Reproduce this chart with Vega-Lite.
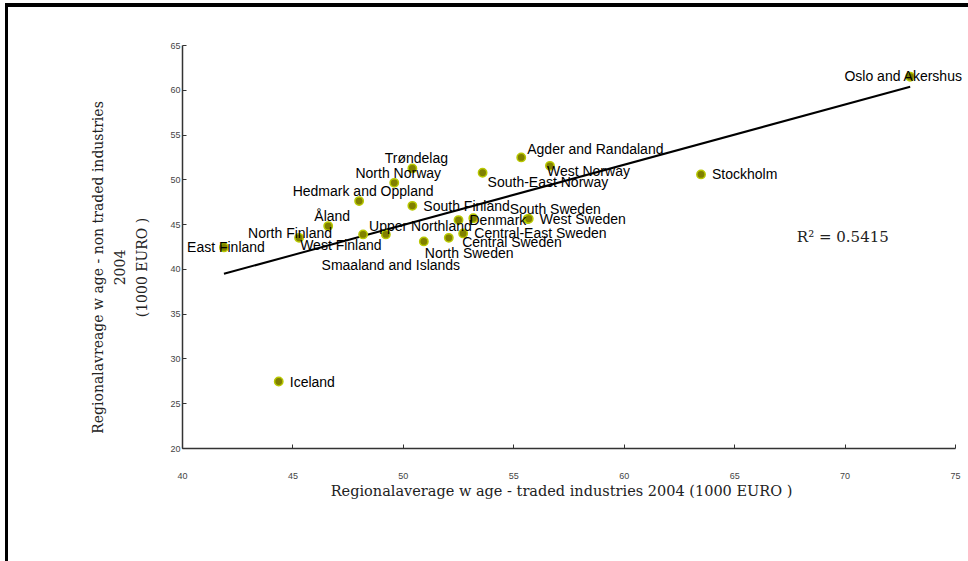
{
  "$schema": "https://vega.github.io/schema/vega-lite/v6.json",
  "width": 773,
  "height": 403,
  "autosize": {"type": "none"},
  "padding": {"left": 182, "top": 45, "right": 13, "bottom": 113},
  "background": "white",
  "config": {
    "view": {"stroke": null},
    "text": {"font": "Liberation Sans", "fontSize": 14, "color": "#000000", "baseline": "middle"}
  },
  "resolve": {"axis": {"x": "independent", "y": "independent"}},
  "data": {
    "values": [
      {"name": "Oslo and Akershus", "traded": 72.97, "nontraded": 61.46},
      {"name": "Stockholm", "traded": 63.5, "nontraded": 50.55},
      {"name": "Agder and Randaland", "traded": 55.36, "nontraded": 52.45},
      {"name": "West Norway", "traded": 56.66, "nontraded": 51.51},
      {"name": "South-East Norway", "traded": 53.61, "nontraded": 50.73},
      {"name": "Trøndelag", "traded": 50.43, "nontraded": 51.22},
      {"name": "North Norway", "traded": 49.61, "nontraded": 49.61},
      {"name": "Hedmark and Oppland", "traded": 48.02, "nontraded": 47.57},
      {"name": "South Finland", "traded": 50.43, "nontraded": 47.04},
      {"name": "Åland", "traded": 46.62, "nontraded": 44.78},
      {"name": "North Finland", "traded": 45.3, "nontraded": 43.47},
      {"name": "East Finland", "traded": 41.9, "nontraded": 42.4},
      {"name": "Iceland", "traded": 44.38, "nontraded": 27.42},
      {"name": "Upper Northland", "traded": 48.2, "nontraded": 43.85},
      {"name": "West Finland", "traded": 49.23, "nontraded": 43.85},
      {"name": "Smaaland and Islands", "traded": 50.95, "nontraded": 43.07},
      {"name": "North Sweden", "traded": 52.08, "nontraded": 43.47},
      {"name": "Central Sweden", "traded": 52.73, "nontraded": 43.96},
      {"name": "Central-East Sweden", "traded": 53.19, "nontraded": 45.65},
      {"name": "Denmark", "traded": 52.52, "nontraded": 45.45},
      {"name": "South Sweden", "traded": 55.65, "nontraded": 45.56},
      {"name": "West Sweden", "traded": 55.7, "nontraded": 45.6}
    ]
  },
  "encoding": {
    "x": {
      "field": "traded",
      "type": "quantitative",
      "scale": {"domain": [40, 75], "nice": false, "zero": false},
      "axis": null
    },
    "y": {
      "field": "nontraded",
      "type": "quantitative",
      "scale": {"domain": [20, 65], "nice": false, "zero": false},
      "axis": null
    }
  },
  "layer": [
    {
      "mark": {"type": "rect", "fillOpacity": 0, "stroke": "#000000", "strokeWidth": 2.5, "clip": false},
      "encoding": {
        "x": {"datum": 32.06, "type": "quantitative", "scale": {"domain": [40, 75]}, "axis": null},
        "x2": {"datum": 80},
        "y": {"datum": 69.47, "type": "quantitative", "scale": {"domain": [20, 65]}, "axis": null},
        "y2": {"datum": 0}
      }
    },
    {
      "transform": [{"regression": "nontraded", "on": "traded"}],
      "mark": {"type": "line", "color": "#000000", "strokeWidth": 2}
    },
    {
      "mark": {"type": "point", "filled": true, "fill": "#808000", "stroke": "#b8c800", "strokeWidth": 1.5, "size": 70, "opacity": 1},
      "encoding": {
        "x": {
          "field": "traded",
          "type": "quantitative",
          "scale": {"domain": [40, 75], "nice": false, "zero": false},
          "axis": {
            "values": [40, 45, 50, 55, 60, 65, 70, 75],
            "grid": false,
            "domainColor": "#333333",
            "domainWidth": 1.5,
            "tickColor": "#333333",
            "tickSize": -4,
            "labelFlush": false,
            "labelFont": "Liberation Sans",
            "labelFontSize": 9,
            "labelColor": "#444444",
            "labelPadding": 27,
            "title": "Regionalaverage w age - traded industries 2004 (1000 EURO )",
            "titleFont": "DejaVu Serif",
            "titleFontSize": 14.5,
            "titleFontWeight": "normal",
            "titleColor": "#222222",
            "titleBaseline": "middle",
            "titleX": 379,
            "titleY": 43
          }
        },
        "y": {
          "field": "nontraded",
          "type": "quantitative",
          "scale": {"domain": [20, 65], "nice": false, "zero": false},
          "axis": {
            "values": [20, 25, 30, 35, 40, 45, 50, 55, 60, 65],
            "grid": false,
            "domainColor": "#333333",
            "domainWidth": 1.5,
            "tickColor": "#333333",
            "tickSize": -4,
            "labelFlush": false,
            "labelFont": "Liberation Sans",
            "labelFontSize": 9,
            "labelColor": "#444444",
            "labelPadding": 6,
            "title": ["Regionalavreage w age - non traded industries", "2004", "(1000 EURO )"],
            "titleFont": "DejaVu Serif",
            "titleFontSize": 14,
            "titleFontWeight": "normal",
            "titleColor": "#222222",
            "titleLineHeight": 22,
            "titleAngle": -90,
            "titleAlign": "center",
            "titleBaseline": "top",
            "titleX": -91,
            "titleY": 222
          }
        }
      }
    },
    {
      "transform": [{"filter": {"field": "name", "oneOf": ["Stockholm", "South Finland", "Iceland", "Denmark", "West Sweden"]}}],
      "mark": {"type": "text", "align": "left", "dx": 11, "dy": 1},
      "encoding": {"text": {"field": "name"}}
    },
    {
      "transform": [{"filter": {"field": "name", "oneOf": ["Trøndelag", "North Norway", "Hedmark and Oppland", "Åland"]}}],
      "mark": {"type": "text", "align": "center", "dx": 4, "dy": -9},
      "encoding": {"text": {"field": "name"}}
    },
    {
      "transform": [{"filter": {"field": "name", "oneOf": ["Agder and Randaland", "Upper Northland"]}}],
      "mark": {"type": "text", "align": "left", "dx": 6, "dy": -7},
      "encoding": {"text": {"field": "name"}}
    },
    {
      "transform": [{"filter": {"field": "name", "equal": "West Norway"}}],
      "mark": {"type": "text", "align": "left", "dx": -3, "dy": 6},
      "encoding": {"text": {"field": "name"}}
    },
    {
      "transform": [{"filter": {"field": "name", "equal": "South-East Norway"}}],
      "mark": {"type": "text", "align": "left", "dx": 5, "dy": 10},
      "encoding": {"text": {"field": "name"}}
    },
    {
      "transform": [{"filter": {"field": "name", "equal": "Oslo and Akershus"}}],
      "mark": {"type": "text", "align": "center", "dx": -7, "dy": 0},
      "encoding": {"text": {"field": "name"}}
    },
    {
      "transform": [{"filter": {"field": "name", "equal": "East Finland"}}],
      "mark": {"type": "text", "align": "center", "dx": 2, "dy": 1},
      "encoding": {"text": {"field": "name"}}
    },
    {
      "transform": [{"filter": {"field": "name", "equal": "North Finland"}}],
      "mark": {"type": "text", "align": "center", "dx": -9, "dy": -4},
      "encoding": {"text": {"field": "name"}}
    },
    {
      "transform": [{"filter": {"field": "name", "equal": "West Finland"}}],
      "mark": {"type": "text", "align": "center", "dx": -45, "dy": 12},
      "encoding": {"text": {"field": "name"}}
    },
    {
      "transform": [{"filter": {"field": "name", "equal": "Smaaland and Islands"}}],
      "mark": {"type": "text", "align": "center", "dx": -33, "dy": 25},
      "encoding": {"text": {"field": "name"}}
    },
    {
      "transform": [{"filter": {"field": "name", "equal": "North Sweden"}}],
      "mark": {"type": "text", "align": "left", "dx": -24, "dy": 16},
      "encoding": {"text": {"field": "name"}}
    },
    {
      "transform": [{"filter": {"field": "name", "equal": "Central Sweden"}}],
      "mark": {"type": "text", "align": "left", "dx": -1, "dy": 10},
      "encoding": {"text": {"field": "name"}}
    },
    {
      "transform": [{"filter": {"field": "name", "equal": "Central-East Sweden"}}],
      "mark": {"type": "text", "align": "left", "dx": 1, "dy": 16},
      "encoding": {"text": {"field": "name"}}
    },
    {
      "transform": [{"filter": {"field": "name", "equal": "South Sweden"}}],
      "mark": {"type": "text", "align": "left", "dx": -18, "dy": -9},
      "encoding": {"text": {"field": "name"}}
    },
    {
      "data": {"values": [{"label": "R² = 0.5415", "traded": 67.84, "nontraded": 43.51}]},
      "mark": {"type": "text", "align": "left", "font": "DejaVu Serif", "fontSize": 15, "color": "#222222"},
      "encoding": {"text": {"field": "label"}}
    }
  ]
}
